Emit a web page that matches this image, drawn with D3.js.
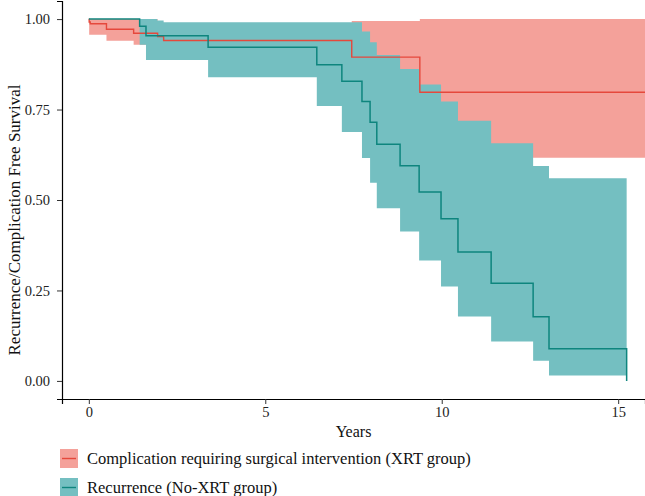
<!DOCTYPE html>
<html>
<head>
<meta charset="utf-8">
<script src="https://cdn.jsdelivr.net/npm/d3@7"></script>
<style>
  body { margin: 0; background: #fff; }
  svg text { font-family: "Liberation Serif", "DejaVu Serif", serif; }
</style>
</head>
<body>
<svg></svg>
<script>
// Complication (XRT group) - step curve
var redTime = [0, 0.01, 0.04, 0.50, 1.27, 1.95, 2.12, 7.45, 9.38, 15.76];
var redSurv = [1.0, 0.992, 0.987, 0.972, 0.961, 0.952, 0.941, 0.895, 0.798, 0.798];
// its confidence band
var redBandTime = [0.01, 0.50, 1.27, 1.95, 2.12, 7.45, 9.38, 15.76];
var redUpper = [1.0, 1.0, 1.0, 0.99, 0.988, 0.995, 1.0, 1.0];
var redLower = [0.957, 0.940, 0.929, 0.915, 0.90, 0.79, 0.617, 0.617];

// Recurrence (No-XRT group)
var tealTime = [0, 1.44, 1.62, 3.38, 6.46, 7.17, 7.74, 7.97, 8.16, 8.82, 9.36, 9.98, 10.46, 11.40, 12.59, 13.04, 15.24];
var tealSurv = [1.0, 0.980, 0.954, 0.922, 0.874, 0.828, 0.772, 0.715, 0.654, 0.595, 0.522, 0.448, 0.356, 0.270, 0.177, 0.089, 0.0];
var tealBandTime = [1.44, 1.62, 1.94, 2.12, 3.38, 6.46, 7.17, 7.74, 7.97, 8.16, 8.82, 9.36, 9.98, 10.46, 11.40, 12.59, 13.04, 15.24];
var tealUpper = [1.0, 1.0, 0.996, 0.991, 0.991, 0.991, 0.991, 0.966, 0.936, 0.901, 0.862, 0.819, 0.772, 0.719, 0.657, 0.594, 0.560, 0.560];
var tealLower = [0.929, 0.887, 0.887, 0.887, 0.839, 0.760, 0.688, 0.616, 0.548, 0.477, 0.413, 0.333, 0.261, 0.178, 0.109, 0.056, 0.015, 0.015];

var xTicks = [0, 5, 10, 15];
var yTicks = [0, 0.25, 0.5, 0.75, 1];
var legendLabels = ["Complication requiring surgical intervention (XRT group)", "Recurrence (No-XRT group)"];

var fills = ["#F4A19A", "#74BFC1"];
var lines = ["#E5483C", "#0E857E"];

var svgWidth = 645, svgHeight = 496;
var plotLeft = 62, plotRight = 645, plotTop = 1, plotBottom = 399;

var svg = d3.select("svg")
    .attr("width", svgWidth)
    .attr("height", svgHeight);

var x = d3.scaleLinear().domain([-0.76, 15.76]).range([plotLeft, plotRight]);
var y = d3.scaleLinear().domain([-0.05, 1.05]).range([plotBottom, plotTop]);

function zipBand(t, lo, hi) {
    return t.map(function (d, i) { return {t: d, lo: lo[i], hi: hi[i]}; });
}
function zipLine(t, s) {
    return t.map(function (d, i) { return {t: d, s: s[i]}; });
}

var area = d3.area()
    .curve(d3.curveStepAfter)
    .x(function (d) { return x(d.t); })
    .y0(function (d) { return y(d.lo); })
    .y1(function (d) { return y(d.hi); });

var line = d3.line()
    .curve(d3.curveStepAfter)
    .x(function (d) { return x(d.t); })
    .y(function (d) { return y(d.s); });

svg.append("path")
    .datum(zipBand(redBandTime, redLower, redUpper))
    .attr("d", area)
    .attr("fill", fills[0]);

svg.append("path")
    .datum(zipBand(tealBandTime, tealLower, tealUpper))
    .attr("d", area)
    .attr("fill", fills[1]);

svg.append("path")
    .datum(zipLine(redTime, redSurv))
    .attr("d", line)
    .attr("fill", "none")
    .attr("stroke", lines[0])
    .attr("stroke-width", 1.4);

svg.append("path")
    .datum(zipLine(tealTime, tealSurv))
    .attr("d", line)
    .attr("fill", "none")
    .attr("stroke", lines[1])
    .attr("stroke-width", 1.5);

// axes
var xAxis = svg.append("g")
    .attr("transform", "translate(0," + plotBottom + ")")
    .call(d3.axisBottom(x).tickValues(xTicks).tickSize(5).tickPadding(3).tickFormat(d3.format("d")));

var yAxis = svg.append("g")
    .attr("transform", "translate(" + plotLeft + ",0)")
    .call(d3.axisLeft(y).tickValues(yTicks).tickSize(5).tickPadding(7).tickFormat(d3.format(".2f")));

[xAxis, yAxis].forEach(function (g) {
    g.select(".domain").attr("stroke", "#000").attr("stroke-width", 1.2);
    g.selectAll(".tick line").attr("stroke", "#333");
    g.selectAll(".tick text").attr("fill", "#222").style("font-size", "14.5px")
        .style("font-family", "'Liberation Serif', serif");
});

svg.append("text")
    .attr("x", (plotLeft + plotRight) / 2)
    .attr("y", 437)
    .attr("text-anchor", "middle")
    .attr("fill", "#111")
    .style("font-size", "16px")
    .text("Years");

svg.append("text")
    .attr("transform", "translate(20,220) rotate(-90)")
    .attr("text-anchor", "middle")
    .attr("fill", "#111")
    .style("font-size", "17px")
    .text("Recurrence/Complication Free Survival");

// legend
var legend = svg.selectAll(".key")
    .data(legendLabels)
    .enter()
    .append("g")
    .attr("transform", function (d, i) { return "translate(60," + (449 + i * 29) + ")"; });

legend.append("rect")
    .attr("width", 18)
    .attr("height", 19)
    .attr("fill", function (d, i) { return fills[i]; });

legend.append("line")
    .attr("x1", 2).attr("x2", 16)
    .attr("y1", 9.5).attr("y2", 9.5)
    .attr("stroke", function (d, i) { return lines[i]; })
    .attr("stroke-width", 1.4);

legend.append("text")
    .attr("x", 27)
    .attr("y", 15)
    .attr("fill", "#111")
    .style("font-size", "16.5px")
    .text(function (d) { return d; });
</script>
</body>
</html>
